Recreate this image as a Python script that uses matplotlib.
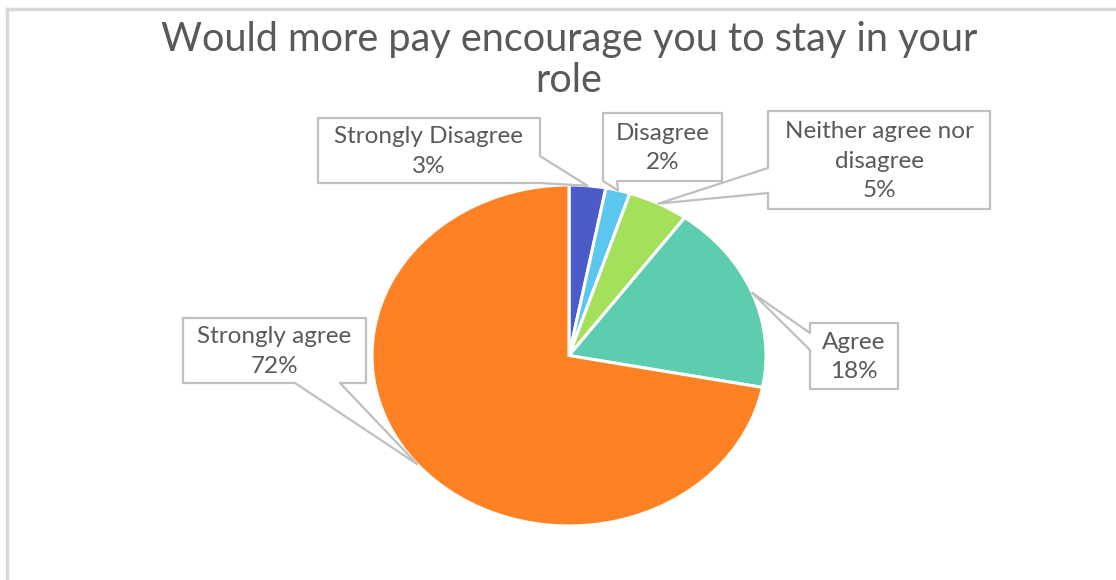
import numpy as np
import matplotlib.pyplot as plt
from matplotlib.patches import Polygon

title = "Would more pay encourage you to stay in your\nrole"
categories = ["Strongly Disagree", "Disagree", "Neither agree nor\ndisagree",
              "Agree", "Strongly agree"]
shares = [3, 2, 5, 18, 72]
colors = ["#4A5CC8", "#5BC6EE", "#A5E05A", "#5DCDB0", "#FE8224"]

W, H = 1116, 580
# pie centre and radii in pixels (the chart is stretched sideways)
cx, cy, rx, ry = 569, 355.5, 197, 170.5

# callout boxes (x0, y0, x1, y1), side the pointer leaves from, pointer base span
callouts = [
    ((318, 118, 540, 183), "right", (156, 183)),
    ((603, 113, 722, 181), "bottom", (603, 617)),
    ((768, 111, 990, 209), "left", (168, 193)),
    ((810, 323, 898, 389), "left", (333, 350)),
    ((183, 318, 366, 383), "bottom", (295, 340)),
]

TEXT = "#595959"
EDGE = "#BFBFBF"
FONT = "Lato"


def callout_poly(box, side, span, tip):
    x0, y0, x1, y1 = box
    a, b = span
    if side == "right":
        return [(x0, y0), (x1, y0), (x1, a), tip, (x1, b), (x1, y1), (x0, y1)]
    if side == "bottom":
        return [(x0, y0), (x1, y0), (x1, y1), (b, y1), tip, (a, y1), (x0, y1)]
    return [(x0, y0), (x1, y0), (x1, y1), (x0, y1), (x0, b), tip, (x0, a)]


fig = plt.figure(figsize=(W / 100, H / 100), dpi=100)

ax_pie = fig.add_axes([(cx - rx) / W, (H - cy - ry) / H, 2 * rx / W, 2 * ry / H])
ax_pie.pie(shares, colors=colors, startangle=90, counterclock=False,
           wedgeprops=dict(edgecolor="white", linewidth=2.2))
ax_pie.set_aspect("auto")
ax_pie.set_xlim(-1, 1)
ax_pie.set_ylim(-1, 1)

ax = fig.add_axes([0, 0, 1, 1])
ax.set_xlim(0, W)
ax.set_ylim(H, 0)
ax.axis("off")
ax.patch.set_alpha(0)

# chart area border
ax.plot([7, 7], [9, H], color="#D9D9D9", lw=2.5)
ax.plot([7, W], [9, 9], color="#D9D9D9", lw=2.5)

ax.text(569, 60, title, ha="center", va="center", fontsize=28.5, color=TEXT,
        family=FONT, linespacing=1.15)

# pointer tips sit on the rim at each slice's middle angle
before = np.cumsum([0] + shares[:-1])
mid = np.radians(90 - 3.6 * (before + np.array(shares) / 2))
tips = list(zip(cx + rx * np.cos(mid), cy - ry * np.sin(mid)))

for name, val, (box, side, span), tip in zip(categories, shares, callouts, tips):
    ax.add_patch(Polygon(callout_poly(box, side, span, tip), closed=True,
                         facecolor="white", edgecolor=EDGE, lw=1.6,
                         joinstyle="round"))
    x0, y0, x1, y1 = box
    ax.text((x0 + x1) / 2, (y0 + y1) / 2 + 1, f"{name}\n{val}%", ha="center",
            va="center", fontsize=17.5, color=TEXT, family=FONT, linespacing=1.5)

fig.savefig("out.png", dpi=100)
